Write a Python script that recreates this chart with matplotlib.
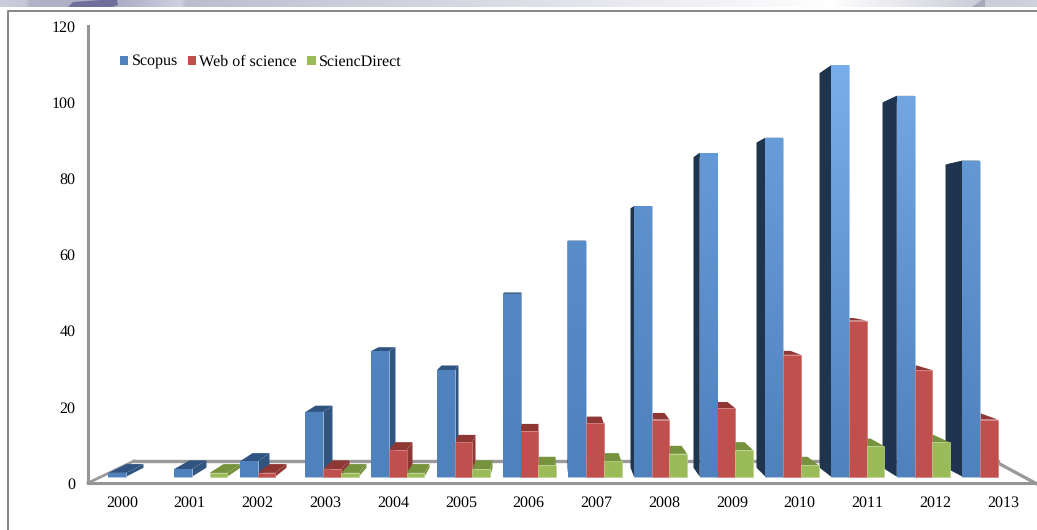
#!/usr/bin/env python3
# -*- coding: utf-8 -*-
import numpy as np
import matplotlib
matplotlib.use("Agg")
import matplotlib.pyplot as plt
from matplotlib.colors import LinearSegmentedColormap
from matplotlib.patches import Polygon, Rectangle

years = [2000, 2001, 2002, 2003, 2004, 2005, 2006, 2007, 2008, 2009, 2010, 2011, 2012, 2013]
scopus = [1, 2, 4, 17, 33, 28, 48, 62, 71, 85, 89, 108, 100, 83]
web_of_science = [0, 0, 1, 2, 7, 9, 12, 14, 15, 18, 32, 41, 28, 15]
science_direct = [0, 1, 0, 1, 1, 2, 3, 4, 6, 7, 3, 8, 9, 0]
y_ticks = [0, 20, 40, 60, 80, 100, 120]

W, H = 1037, 530
plt.rcParams['font.family'] = ['Liberation Serif', 'DejaVu Sans']
plt.rcParams['font.size'] = 11.2
plt.rcParams['text.hinting'] = 'no_hinting'
plt.rcParams['text.hinting_factor'] = 1

fig = plt.figure(figsize=(W / 100, H / 100), dpi=100)

# slide furniture behind the chart: banner strip and outer frame
bg = fig.add_axes([0, 0, 1, 1], zorder=0)
bg.set_xlim(0, W)
bg.set_ylim(H, 0)
bg.axis('off')
strip = np.array([[0.80, 0.80, 0.86], [0.78, 0.78, 0.84], [0.70, 0.70, 0.78], [0.68, 0.68, 0.77],
                  [0.82, 0.82, 0.88], [0.74, 0.74, 0.81], [0.86, 0.86, 0.90], [1.0, 1.0, 1.0],
                  [0.80, 0.80, 0.85], [0.82, 0.82, 0.87]])
strip_x = [0, 25, 30, 120, 180, 186, 500, 830, 980, 1037]
banner = np.array([np.interp(np.arange(W), strip_x, strip[:, c]) for c in range(3)]).T[None, :, :]
bg.imshow(banner, extent=(0, W, 7, 0), aspect='auto')
bg.add_patch(Polygon([(68, 7), (73, 2), (100, 0), (117, 0), (118, 5), (112, 7)], color='#6f6f9b', lw=0))
bg.add_patch(Polygon([(972, 7), (982, 0), (985, 0), (985, 7)], color='#a9a9ba', lw=0))
bg.plot([8, 8, W], [H, 10.5, 10.5], color='#858585', lw=1.4)
bg.set_xlim(0, W)
bg.set_ylim(H, 0)

# plot area: left edge at 88 px, value 0 at 483 px, value 120 at 26 px
ax_left, ax_bottom, ax_top = 88, 483, 26
ax = fig.add_axes([ax_left / W, 1 - ax_bottom / H, (W - ax_left) / W, (ax_bottom - ax_top) / H], zorder=1)
ax.patch.set_alpha(0)

step = 65.7
first = 135
px_per_unit = (ax_bottom - ax_top) / 120
xlim = ((ax_left - first) / step, (W - first) / step)


def px_x(x):
    return (x - first) / step


def px_y(y):
    return (ax_bottom - y) / px_per_unit


# perspective of the bars
vanish_x, vanish_y = px_x(549), px_y(258)
depth = 0.041
bar_w = 0.27
base = px_y(476.7)


def back(x, y):
    return x + depth * (vanish_x - x), y + depth * (vanish_y - y)


def draw_bar(x_left, value, colors, zorder):
    x_right = x_left + bar_w
    top = base + value
    side_color = colors['side_right']
    # top face
    ax.add_patch(Polygon([(x_left, top), (x_right, top), back(x_right, top), back(x_left, top)],
                         color=colors['top'], lw=0, zorder=zorder))
    # side face on the side turned to the viewer
    if x_right < vanish_x:
        edge = x_right
    elif x_left > vanish_x:
        edge = x_left
        side_color = colors['side_left']
    else:
        return
    ax.add_patch(Polygon([(edge, base), (edge, top), back(edge, top), back(edge, base)],
                         color=side_color, lw=0, zorder=zorder))


blue = {'face': '#4f81bd', 'edge': '#b4cdea', 'top': '#2f5481', 'side_right': '#30557f', 'side_left': '#1f344e'}
red = {'face': '#c0504d', 'edge': '#d07a78', 'top': '#8f3735', 'side_right': '#8f3735', 'side_left': '#8f3735'}
green = {'face': '#9bbb59', 'edge': '#bcd28e', 'top': '#76923c', 'side_right': '#76923c', 'side_left': '#76923c'}
series = [('Scopus', scopus, blue, -1.5), ('Web of science', web_of_science, red, -0.5),
          ('SciencDirect', science_direct, green, 0.5)]

# floor and walls
ax.plot([px_x(134), px_x(998)], [px_y(461), px_y(461)], color='#9a9a9a', lw=2.4, zorder=1, clip_on=False)
ax.plot([px_x(88), px_x(134)], [px_y(483), px_y(461)], color='#9a9a9a', lw=2.0, zorder=1, clip_on=False)
ax.plot([px_x(1037), px_x(998)], [px_y(484), px_y(463)], color='#9a9a9a', lw=2.4, zorder=1, clip_on=False)

handles = []
for name, values, colors, offset in series:
    xs = np.arange(len(years)) + offset * bar_w
    vals = np.array(values)
    keep = vals > 0
    for x, v in zip(xs[keep], vals[keep]):
        draw_bar(x, v, colors, 2)
    bars = ax.bar(xs[keep], vals[keep], bar_w, bottom=base, align='edge', color=colors['face'],
                  edgecolor=colors['edge'], linewidth=0.5, zorder=3)
    handles.append(Rectangle((0, 0), 1, 1, color=colors['face'], lw=0, label=name))

    # tall blue bars get lighter towards the top
    if colors is blue:
        for patch, v in zip(bars, vals[keep]):
            strength = min(1, (v / 108) ** 2.5)
            top_color = np.array([0.31, 0.506, 0.741]) + strength * np.array([0.16, 0.176, 0.175])
            cmap = LinearSegmentedColormap.from_list('bar', ['#4f81bd', tuple(top_color)])
            x0 = patch.get_x()
            img = ax.imshow(np.linspace(1, 0, 64)[:, None], cmap=cmap, vmin=0, vmax=1, aspect='auto',
                            extent=(x0, x0 + bar_w, base, base + v), zorder=3.5)
            img.set_clip_path(patch)

ax.set_xlim(*xlim)
ax.set_ylim(0, 120)
ax.set_aspect('auto')

ax.set_yticks(y_ticks)
ax.set_xticks(np.linspace(px_x(122), px_x(1003), len(years)))
ax.set_xticklabels(years)
ax.tick_params(axis='y', length=0, pad=9)
ax.tick_params(axis='x', length=0, pad=9.5)

for side in ['top', 'right']:
    ax.spines[side].set_visible(False)
for side in ['left', 'bottom']:
    ax.spines[side].set_color('#959595')
    ax.spines[side].set_linewidth(2.2)

ax.legend(handles=handles, loc='upper left', bbox_to_anchor=(0.0335, 0.937), ncol=3, frameon=False,
          handlelength=0.55, handleheight=0.55, handletextpad=0.2, columnspacing=0.65,
          borderpad=0, borderaxespad=0, fontsize=11.2)

fig.savefig('out.png', dpi=100)
